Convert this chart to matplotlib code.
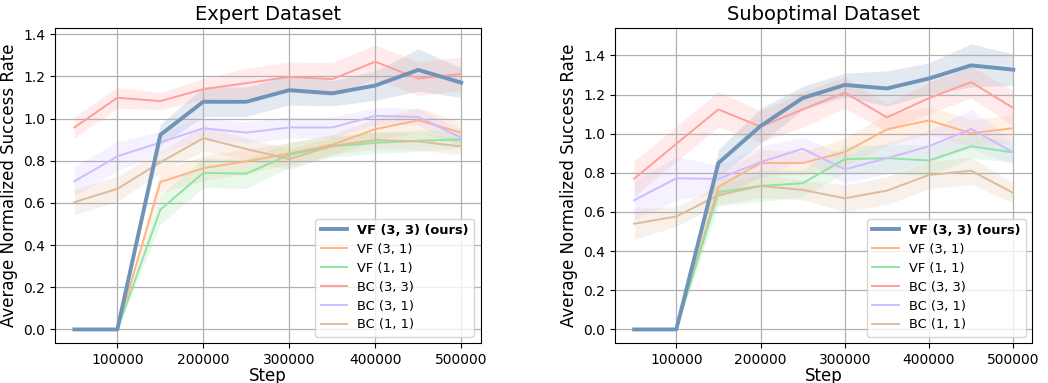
import numpy as np
import matplotlib.pyplot as plt

steps = [50000, 100000, 150000, 200000, 250000, 300000, 350000, 400000, 450000, 500000]
labels = ["VF (3, 3) (ours)", "VF (3, 1)", "VF (1, 1)", "BC (3, 3)", "BC (3, 1)", "BC (1, 1)"]
colors = ["#7093b8", "#ffb482", "#8de5a1", "#ff9f9b", "#d0bbff", "#debb9b"]

# expert dataset: means
exp_vf33 = [0.0, 0.0, 0.923, 1.08, 1.08, 1.135, 1.12, 1.157, 1.231, 1.171]
exp_vf31 = [0.0, 0.0, 0.699, 0.765, 0.797, 0.835, 0.876, 0.95, 0.992, 0.934]
exp_vf11 = [0.0, 0.0, 0.568, 0.743, 0.739, 0.829, 0.868, 0.885, 0.895, 0.901]
exp_bc33 = [0.958, 1.099, 1.083, 1.14, 1.168, 1.198, 1.187, 1.27, 1.19, 1.212]
exp_bc31 = [0.703, 0.821, 0.887, 0.954, 0.934, 0.958, 0.958, 1.013, 1.008, 0.91]
exp_bc11 = [0.604, 0.667, 0.793, 0.907, 0.856, 0.808, 0.871, 0.898, 0.892, 0.868]
# expert dataset: band half-widths
exp_vf33_sd = [0.0, 0.0, 0.05, 0.07, 0.07, 0.07, 0.06, 0.07, 0.1, 0.07]
exp_vf31_sd = [0.0, 0.0, 0.05, 0.06, 0.06, 0.05, 0.05, 0.05, 0.06, 0.05]
exp_vf11_sd = [0.0, 0.0, 0.07, 0.07, 0.07, 0.06, 0.05, 0.05, 0.05, 0.04]
exp_bc33_sd = [0.05, 0.05, 0.04, 0.05, 0.07, 0.07, 0.08, 0.08, 0.08, 0.08]
exp_bc31_sd = [0.07, 0.07, 0.05, 0.05, 0.05, 0.05, 0.05, 0.04, 0.04, 0.04]
exp_bc11_sd = [0.06, 0.06, 0.05, 0.06, 0.05, 0.05, 0.04, 0.04, 0.04, 0.04]

# suboptimal dataset: means
sub_vf33 = [0.0, 0.0, 0.85, 1.039, 1.182, 1.249, 1.231, 1.282, 1.349, 1.327]
sub_vf31 = [0.0, 0.0, 0.728, 0.85, 0.85, 0.906, 1.022, 1.068, 1.002, 1.028]
sub_vf11 = [0.0, 0.0, 0.701, 0.733, 0.747, 0.87, 0.875, 0.863, 0.936, 0.904]
sub_bc33 = [0.77, 0.948, 1.124, 1.036, 1.124, 1.21, 1.083, 1.182, 1.263, 1.131]
sub_bc31 = [0.66, 0.772, 0.769, 0.855, 0.923, 0.818, 0.875, 0.936, 1.024, 0.904]
sub_bc11 = [0.54, 0.577, 0.686, 0.733, 0.713, 0.67, 0.709, 0.789, 0.811, 0.697]
# suboptimal dataset: band half-widths
sub_vf33_sd = [0.0, 0.0, 0.07, 0.09, 0.06, 0.06, 0.09, 0.08, 0.11, 0.08]
sub_vf31_sd = [0.0, 0.0, 0.06, 0.07, 0.06, 0.07, 0.08, 0.07, 0.07, 0.07]
sub_vf11_sd = [0.0, 0.0, 0.07, 0.08, 0.07, 0.07, 0.07, 0.08, 0.06, 0.05]
sub_bc33_sd = [0.09, 0.09, 0.09, 0.08, 0.09, 0.08, 0.07, 0.08, 0.08, 0.09]
sub_bc31_sd = [0.1, 0.11, 0.07, 0.08, 0.06, 0.07, 0.08, 0.08, 0.1, 0.06]
sub_bc11_sd = [0.08, 0.05, 0.05, 0.06, 0.05, 0.07, 0.07, 0.07, 0.07, 0.05]


def draw(ax, title, means, sds, ylim):
    x = np.array(steps)
    for i, (m, s) in enumerate(zip(means, sds)):
        m = np.array(m)
        s = np.array(s)
        lw = 2.8 if i == 0 else 1.4
        ax.plot(x, m, color=colors[i], lw=lw, label=labels[i], zorder=5 if i == 0 else 3)
        ax.fill_between(x, m - s, m + s, color=colors[i], alpha=0.2, lw=0)
    ax.set_title(title, fontsize=14)
    ax.set_xlabel("Step", fontsize=12, labelpad=0)
    ax.set_ylabel("Average Normalized Success Rate", fontsize=12)
    ax.set_xticks([100000, 200000, 300000, 400000, 500000])
    ax.set_ylim(*ylim)
    ax.grid(True, color="#b0b0b0", lw=0.9)
    leg = ax.legend(loc="lower right", fontsize=9.4, framealpha=0.8,
                    labelspacing=0.45)
    leg.get_texts()[0].set_fontweight("bold")


fig = plt.figure(figsize=(10.48, 3.83), dpi=100)
ax1 = fig.add_axes([0.0525, 0.104, 0.406, 0.823])
ax2 = fig.add_axes([0.587, 0.104, 0.398, 0.823])

draw(ax1, "Expert Dataset",
     [exp_vf33, exp_vf31, exp_vf11, exp_bc33, exp_bc31, exp_bc11],
     [exp_vf33_sd, exp_vf31_sd, exp_vf11_sd, exp_bc33_sd, exp_bc31_sd, exp_bc11_sd],
     (-0.065, 1.43))
draw(ax2, "Suboptimal Dataset",
     [sub_vf33, sub_vf31, sub_vf11, sub_bc33, sub_bc31, sub_bc11],
     [sub_vf33_sd, sub_vf31_sd, sub_vf11_sd, sub_bc33_sd, sub_bc31_sd, sub_bc11_sd],
     (-0.07, 1.54))

fig.savefig("out.png", dpi=100)
